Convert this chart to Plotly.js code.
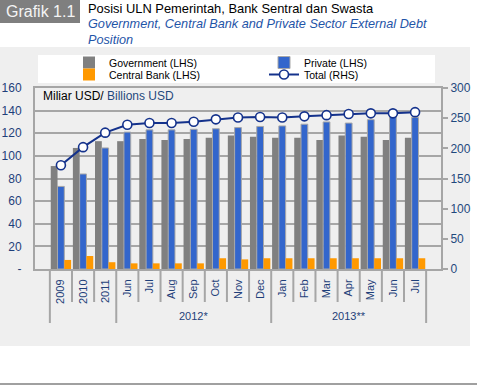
<!DOCTYPE html>
<html>
<head>
<meta charset="utf-8">
<script src="https://cdn.plot.ly/plotly-3.0.1.min.js"></script>
<style>
  html, body { margin: 0; padding: 0; background: #ffffff; }
  #chart { width: 477px; height: 387px; }
</style>
</head>
<body>
<div id="chart"></div>
<script>
// ---- data (billions USD) ----
const periods = ['2009', '2010', '2011',
  'Jun 2012', 'Jul 2012', 'Aug 2012', 'Sep 2012', 'Oct 2012', 'Nov 2012', 'Dec 2012',
  'Jan 2013', 'Feb 2013', 'Mar 2013', 'Apr 2013', 'May 2013', 'Jun 2013', 'Jul 2013'];
const tickLabels = ['2009', '2010', '2011',
  'Jun', 'Jul', 'Aug', 'Sep', 'Oct', 'Nov', 'Dec',
  'Jan', 'Feb', 'Mar', 'Apr', 'May', 'Jun', 'Jul'];
const groupLabels = ['2012*', '2013**'];
const groupCenters = ['Sep 2012', 'Apr 2013'];
const government = [91, 107, 113, 113, 115, 114, 115, 116, 118, 117, 116, 116, 114, 118, 117, 114, 116];
const privateSector = [73, 84, 107, 121, 123, 123, 123.5, 124, 125, 126, 126.5, 128, 130, 129, 132, 135, 134];
const centralBank = [8, 11.5, 6, 5, 5, 5, 5, 9.5, 8.5, 9.5, 9.5, 9.5, 9.5, 9.5, 9.5, 9.5, 9.5];
const total = [172, 202, 226, 239, 242, 242, 244, 248, 251, 252, 251, 253, 255, 257, 258, 258, 260];
const leftTicks = [0, 20, 40, 60, 80, 100, 120, 140, 160];
const leftTickText = ['-', '20', '40', '60', '80', '100', '120', '140', '160'];

// ---- geometry helpers (pixel -> paper) ----
const W = 477, H = 387;
const L = 35, R = 441, T = 88, B = 269;
const xp = x => (x - L) / (R - L);
const yp = y => (B - y) / (B - T);

const navy = '#1f3f7a';
const axisGray = '#a6a6a6';
const FONT = 'Liberation Sans, Arial, sans-serif';

const traces = [
  { type: 'bar', name: 'Government (LHS)', x: periods, y: government,
    marker: { color: '#808080' }, legend: 'legend' },
  { type: 'bar', name: 'Private (LHS)', x: periods, y: privateSector,
    marker: { color: '#3366cc', line: { color: '#a8a8a8', width: 1 } }, legend: 'legend' },
  { type: 'bar', name: 'Central Bank (LHS)', x: periods, y: centralBank,
    marker: { color: '#ff9900' }, legend: 'legend2' },
  { type: 'scatter', mode: 'lines+markers', name: 'Total (RHS)', x: periods, y: total,
    yaxis: 'y2', line: { color: '#14328c', width: 2 }, legend: 'legend2',
    marker: { size: 9, color: '#ffffff', line: { color: '#14328c', width: 1.6 } } }
];

const shapes = [
  // grey panel
  { type: 'rect', xref: 'paper', yref: 'paper', layer: 'below',
    x0: xp(0), x1: xp(470), y0: yp(346), y1: yp(47),
    fillcolor: '#efefef', line: { width: 0 } },
  // legend box
  { type: 'rect', xref: 'paper', yref: 'paper', layer: 'below',
    x0: xp(38), x1: xp(435), y0: yp(83), y1: yp(55),
    fillcolor: '#ffffff', line: { width: 0 } },
  // title box
  { type: 'rect', xref: 'paper', yref: 'paper', layer: 'below',
    x0: xp(0), x1: xp(80), y0: yp(23), y1: yp(0),
    fillcolor: '#7f7f7f', line: { width: 0 } },
  // bottom rule
  { type: 'line', xref: 'paper', yref: 'paper',
    x0: xp(0), x1: xp(477), y0: yp(384), y1: yp(384),
    line: { color: '#a0a0a0', width: 2 } }
];
// separators under the category axis
const groupBounds = [-0.5, 2.5, 9.5, 16.5];
for (let i = 0; i <= periods.length; i++) {
  const xb = i - 0.5;
  const isGroup = groupBounds.indexOf(xb) >= 0;
  shapes.push({ type: 'line', xref: 'x', yref: 'paper', x0: xb, x1: xb,
    y0: 0, y1: isGroup ? yp(323) : yp(302),
    line: { color: axisGray, width: 2 } });
}

const annotations = [
  { text: 'Grafik 1.1', xref: 'paper', yref: 'paper', x: xp(4), y: yp(11),
    xanchor: 'left', yanchor: 'middle', showarrow: false,
    font: { family: FONT, size: 16, color: '#f4f4f4' } },
  { text: 'Posisi ULN Pemerintah, Bank Sentral dan Swasta', xref: 'paper', yref: 'paper',
    x: xp(86), y: yp(8), xanchor: 'left', yanchor: 'middle', showarrow: false,
    font: { family: FONT, size: 12.9, color: '#000000' } },
  { text: '<i>Government, Central Bank and Private Sector External Debt</i>', xref: 'paper', yref: 'paper',
    x: xp(86), y: yp(24), xanchor: 'left', yanchor: 'middle', showarrow: false,
    font: { family: FONT, size: 12.7, color: '#1f55a8' } },
  { text: '<i>Position</i>', xref: 'paper', yref: 'paper',
    x: xp(86), y: yp(40), xanchor: 'left', yanchor: 'middle', showarrow: false,
    font: { family: FONT, size: 12.7, color: '#1f55a8' } },
  { text: 'Miliar USD/ <span style="color:#1f497d">Billions USD</span>', xref: 'paper', yref: 'paper',
    x: xp(41), y: yp(96), xanchor: 'left', yanchor: 'middle', showarrow: false,
    font: { family: FONT, size: 12, color: '#000000' } }
];
groupLabels.forEach((g, k) => annotations.push({
  text: g, xref: 'x', yref: 'paper', x: groupCenters[k], y: yp(316),
  xanchor: 'center', yanchor: 'middle', showarrow: false,
  font: { family: FONT, size: 11, color: navy } }));

const legendCommon = {
  orientation: 'h', xanchor: 'left', yanchor: 'top',
  entrywidth: 150, entrywidthmode: 'pixels', bgcolor: 'rgba(0,0,0,0)',
  font: { family: FONT, size: 10.5, color: '#000000' }, traceorder: 'normal'
};

const layout = {
  width: W, height: H,
  margin: { l: L, r: W - R, t: T, b: H - B, pad: 0 },
  paper_bgcolor: '#ffffff', plot_bgcolor: '#ffffff',
  font: { family: FONT, color: navy },
  barmode: 'group', bargap: 0.08, bargroupgap: 0,
  showlegend: true,
  legend: Object.assign({}, legendCommon, { x: xp(69), y: yp(48) }),
  legend2: Object.assign({}, legendCommon, { x: xp(69), y: yp(60) }),
  xaxis: { type: 'category', tickvals: periods, ticktext: tickLabels,
    tickangle: -90, ticks: '', showgrid: false, showline: true, mirror: true,
    linecolor: axisGray, linewidth: 2, tickfont: { size: 11, color: navy },
    ticklabelstandoff: 4, fixedrange: true },
  yaxis: { range: [0, 160], tickvals: leftTicks, ticktext: leftTickText,
    showgrid: true, gridcolor: axisGray, gridwidth: 2, showline: true, mirror: true,
    linecolor: axisGray, linewidth: 2, ticks: '', ticklabelstandoff: 9,
    tickfont: { size: 12, color: navy }, zeroline: false, fixedrange: true },
  yaxis2: { range: [0, 300], dtick: 50, overlaying: 'y', side: 'right',
    showgrid: false, showline: true, linecolor: axisGray, linewidth: 2,
    ticks: 'outside', ticklen: 5, tickwidth: 2, tickcolor: axisGray,
    tickfont: { size: 12, color: '#1f497d' }, zeroline: false, fixedrange: true },
  shapes: shapes,
  annotations: annotations,
  hovermode: false
};

Plotly.newPlot('chart', traces, layout, { displayModeBar: false, staticPlot: true });
</script>
</body>
</html>
